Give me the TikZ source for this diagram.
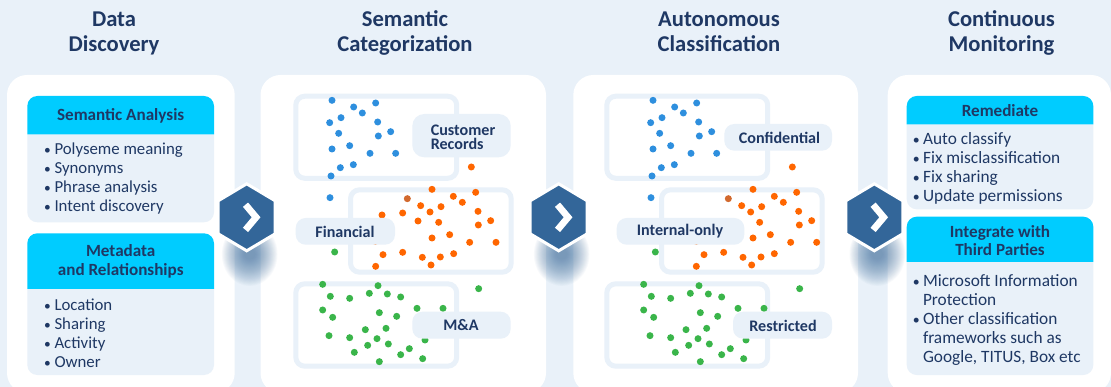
\documentclass[tikz,border=0pt]{standalone}
\usepackage{fontspec}
\setmainfont{Carlito}
\definecolor{pagebg}{HTML}{E9F1F9}
\definecolor{headcy}{HTML}{00CCFF}
\definecolor{navy}{HTML}{1F3864}
\definecolor{hexblue}{HTML}{336699}
\definecolor{dotblue}{HTML}{2E8FDE}
\definecolor{dotorange}{HTML}{FF6600}
\definecolor{dotdark}{HTML}{D2692E}
\definecolor{dotgreen}{HTML}{3AB54A}
\tikzset{
  titletext/.style={font=\fontsize{22.6}{24}\selectfont\bfseries,text=navy,align=center,inner sep=0pt,anchor=base,yshift=-1pt},
  headtext/.style={font=\fontsize{17.1}{19}\selectfont\bfseries,text=navy,align=center,inner sep=0pt,anchor=base,yshift=-1pt},
  itemtext/.style={font=\fontsize{16.8}{19}\selectfont,text=navy,inner sep=0pt,anchor=base west,yshift=-1pt},
  itemwide/.style={itemtext,font=\fontsize{17.3}{19}\selectfont},
  tagtext/.style={font=\fontsize{16.1}{14}\selectfont\bfseries,text=navy,align=left,inner sep=0pt,anchor=center},
  groupframe/.style={draw=pagebg,line width=5pt,rounded corners=9pt},
  tagbox/.style={fill=pagebg,rounded corners=10pt},
  panelbox/.style={fill=white,rounded corners=20pt}
}
\newcommand\bl{\makebox[10.3pt][l]{\raisebox{0.2pt}{\scalebox{0.8}{•}}}}
% x1, y-top, y-split, y-bottom, x2
\newcommand\cardbox[5]{%
  \fill[pagebg] (#1,#3) [sharp corners] -- (#5,#3) [rounded corners=10pt] -- (#5,#4) -- (#1,#4) [sharp corners] -- cycle;
  \fill[headcy] (#1,#3) [rounded corners=10pt] -- (#1,#2) -- (#5,#2) [sharp corners] -- (#5,#3) -- cycle;
}
\newcommand\hexbadge[2]{%
  \begin{scope}[shift={(#1,217.3)}]
    \foreach \k in {1,...,24}{
      \fill[hexblue,opacity=0.036] (3,37) ellipse ({5+\k*0.95} and {4+\k*1.15});
    }
    \fill[hexblue,draw=white,line width=3pt,line join=miter] (0,-33.5) -- (28.5,-16.5) -- (28.5,16.5) -- (0,33.5) -- (-28.5,16.5) -- (-28.5,-16.5) -- cycle;
    \draw[white,line width=6.7pt,line join=miter,miter limit=10] (-1.2,-12.6) -- (9.4,0) -- (-1.2,12.6);
  \end{scope}
}
\newcommand\dotset[2]{%
  \foreach \a/\b in {#2}{\fill[#1] (\a,\b) circle[radius=3.5pt];}
}
\begin{document}
\begin{tikzpicture}[x=1pt,y=-1pt]
\useasboundingbox (0,0) rectangle (1111,387);
\clip (0,0) rectangle (1111,387);
\fill[pagebg] (0,0) rectangle (1111,387);

% titles
\node[titletext] (t1a) at (114,25.5) {Data};
\node[titletext] (t1b) at (114,50.5) {Discovery};
\node[titletext] (t2a) at (405,25.5) {Semantic};
\node[titletext] (t2b) at (405,50.5) {Categorization};
\node[titletext] (t3a) at (719,25.5) {Autonomous};
\node[titletext] (t3b) at (719,50.5) {Classification};
\node[titletext] (t4a) at (1001.5,25.5) {Continuous};
\node[titletext] (t4b) at (1001.5,50.5) {Monitoring};

% panels
\fill[panelbox] (7,75) rectangle (234.7,393);
\fill[panelbox] (260.5,75) rectangle (546,393);
\fill[panelbox] (573.3,75) rectangle (858,393);
\fill[panelbox] (887.7,75) rectangle (1111,393);

% panel 1
\cardbox{27.3}{96}{134.3}{222.3}{214}
\cardbox{27.3}{233.3}{289}{375}{214}
\node[headtext] (h1) at (120.7,120) {Semantic Analysis};
\node[itemtext] (a1) at (44,154) {\bl Polyseme meaning};
\node[itemtext] (a2) at (44,173) {\bl Synonyms};
\node[itemtext] (a3) at (44,192) {\bl Phrase analysis};
\node[itemtext] (a4) at (44,211) {\bl Intent discovery};
\node[headtext] (h2a) at (120.7,256) {Metadata};
\node[headtext] (h2b) at (120.7,275) {and Relationships};
\node[itemtext] (b1) at (44,310) {\bl Location};
\node[itemtext] (b2) at (44,329) {\bl Sharing};
\node[itemtext] (b3) at (44,347.5) {\bl Activity};
\node[itemtext] (b4) at (44,366.5) {\bl Owner};

% panel 4
\cardbox{906.7}{96}{124.3}{209.3}{1093.3}
\cardbox{906.7}{216.7}{262}{375}{1093.3}
\node[headtext] (h3) at (1000,116) {Remediate};
\node[itemwide] (c1) at (912.6,144) {\bl Auto classify};
\node[itemwide] (c2) at (912.6,163) {\bl Fix misclassification};
\node[itemwide] (c3) at (912.6,182) {\bl Fix sharing};
\node[itemwide] (c4) at (912.6,201) {\bl Update permissions};
\node[headtext] (h4a) at (1000,236.5) {Integrate with};
\node[headtext] (h4b) at (1000,255) {Third Parties};
\node[itemwide] (d1) at (912.6,286) {\bl Microsoft Information};
\node[itemwide] (d2) at (922.8,304.5) {Protection};
\node[itemwide] (d3) at (912.6,323.5) {\bl Other classification};
\node[itemwide] (d4) at (922.8,342.5) {frameworks such as};
\node[itemwide] (d5) at (922.8,361.5) {Google, TITUS, Box etc};

% panel 2 frames
\draw[groupframe] (295.8,96.2) rectangle (456.7,178.3);
\draw[groupframe] (350.5,189.8) rectangle (511.2,272.2);
\draw[groupframe] (295.8,283.8) rectangle (456.7,366.2);
% panel 3 frames
\draw[groupframe] (606.8,96.2) rectangle (767.7,178.3);
\draw[groupframe] (661.5,189.8) rectangle (822.2,272.2);
\draw[groupframe] (606.8,283.8) rectangle (767.7,366.2);

% dots, in 3x crop coordinates
\begin{scope}[shift={(260,70)},x=0.33333pt,y=-0.33333pt]
\dotset{dotblue}{216/91,281/111,347/99,307/129,243/143,209/158,353/156,392/185,236/190,355/198,269/227,216/237,330/250,407/250,280/284,241/293,213/318,210/383}
\dotset{dotorange}{634/291,516/358,647/367,580/379,607/397,482/407,543/410,510/426,654/424,428/429,366/435,692/452,474/453,536/457,655/465,569/494,516/504,629/517,708/517,428/547,369/554,581/551,541/561,487/562,513/585,347/589,346/514}
\dotset{dotdark}{442/386}
\dotset{dotgreen}{224/546,188/643,354/647,211/679,269/685,328/670,382/672,422/681,656/656,471/715,549/715,188/720,218/742,358/728,410/739,316/779,378/775,207/797,269/803,351/806,495/810,323/826,385/822,448/836,283/847,422/854,488/866,358/875}
\end{scope}
\begin{scope}[shift={(570,70)},x=0.33333pt,y=-0.33333pt]
\dotset{dotblue}{249/91,314/111,380/99,340/129,276/143,242/158,386/156,425/185,269/190,388/198,302/227,249/237,363/250,440/250,313/284,274/293,246/318,243/383}
\dotset{dotorange}{667/291,549/358,680/367,613/379,640/397,515/407,575/410,542/426,686/424,725/452,569/457,688/465,601/494,549/504,662/517,740/517,461/547,402/554,613/551,573/561,519/562,545/585,379/589,379/514}
\dotset{dotdark}{475/386}
\dotset{dotgreen}{256/546,221/643,387/647,244/679,302/685,361/670,415/672,455/681,689/656,504/715,582/715,221/720,251/742,391/728,443/739,348/779,410/775,240/797,302/803,384/806,528/810,356/826,418/822,481/836,316/847,455/854,521/866,391/875}
\end{scope}

% tags, panel 2
\fill[tagbox,rounded corners=12pt] (412.3,114) rectangle (510.7,157.3);
\node[tagtext] (g1) at (463,137) {Customer\\Records};
\fill[tagbox] (295.7,218) rectangle (395,244.7);
\node[tagtext] (g2) at (345,231.5) {Financial};
\fill[tagbox] (412.3,311.7) rectangle (510.7,338.7);
\node[tagtext] (g3) at (461,325.5) {M\&A};
% tags, panel 3
\fill[tagbox] (724.3,124) rectangle (832,150.7);
\node[tagtext] (g4) at (779.5,137.5) {Confidential};
\fill[tagbox] (616.7,218) rectangle (744.3,244.7);
\node[tagtext] (g5) at (680,231.5) {Internal-only};
\fill[tagbox] (733,311.7) rectangle (832,338.7);
\node[tagtext] (g6) at (783,325.5) {Restricted};

% hexagons
\hexbadge{246.7}{}
\hexbadge{558.7}{}
\hexbadge{874.3}{}
\end{tikzpicture}
\end{document}
